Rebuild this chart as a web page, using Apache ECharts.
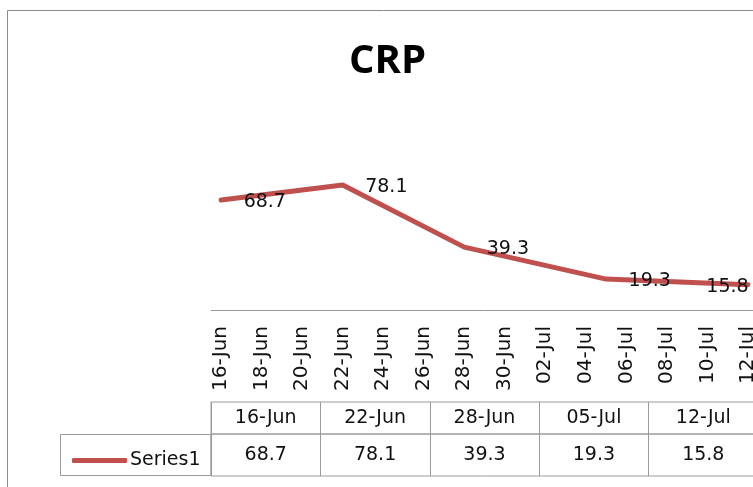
<!DOCTYPE html>
<html>
<head>
<meta charset="utf-8">
<script src="https://cdn.jsdelivr.net/npm/echarts@6/dist/echarts.min.js"></script>
<style>
  html, body { margin: 0; padding: 0; overflow: hidden; background: #fff; }
  #main { width: 770px; height: 487px; }
</style>
</head>
<body>
<div id="main"></div>
<script>
// every day on the date axis, labels shown every other day
const days = [
  '16-Jun', '17-Jun', '18-Jun', '19-Jun', '20-Jun', '21-Jun', '22-Jun', '23-Jun', '24-Jun',
  '25-Jun', '26-Jun', '27-Jun', '28-Jun', '29-Jun', '30-Jun', '01-Jul', '02-Jul', '03-Jul',
  '04-Jul', '05-Jul', '06-Jul', '07-Jul', '08-Jul', '09-Jul', '10-Jul', '11-Jul', '12-Jul',
]
// measured dates and CRP values
const dates = ['16-Jun', '22-Jun', '28-Jun', '05-Jul', '12-Jul']
const crp = [68.7, 78.1, 39.3, 19.3, 15.8]
const seriesName = 'Series1'

const red = '#C0504D'
const border = '#9a9a9a'
const ink = '#111'
const font = '"DejaVu Sans", sans-serif'

const cellLabel = {
  show: true,
  position: 'inside',
  fontFamily: font,
  fontSize: 19,
  color: ink,
  opacity: 1,
  textBorderWidth: 0,
}

const chart = echarts.init(document.getElementById('main'))

const option = {
  animation: false,
  backgroundColor: '#fff',
  title: {
    text: 'CRP',
    left: 344,
    top: 37,
    textStyle: {
      fontFamily: '"Liberation Sans Narrow", "Open Sans", sans-serif',
      fontWeight: 'bold',
      fontSize: 40,
      color: '#000',
    },
  },
  legend: {
    left: 67,
    top: 446,
    itemWidth: 55,
    itemHeight: 5,
    itemGap: 0,
    textStyle: { fontFamily: font, fontSize: 19, color: ink, padding: [0, 0, 0, -2] },
    data: [{ name: seriesName, icon: 'roundRect' }],
  },
  grid: [
    // plot area
    { left: 211, right: 12, top: 150, bottom: 177 },
    // data table: header row
    { left: 211, right: 12, top: 402, height: 32, show: true, borderColor: border, borderWidth: 1 },
    // data table: value row
    { left: 211, right: 12, top: 434, height: 42, show: true, borderColor: border, borderWidth: 1 },
  ],
  xAxis: [
    {
      gridIndex: 0,
      type: 'category',
      data: days,
      boundaryGap: true,
      axisLine: { lineStyle: { color: border, width: 1 } },
      axisTick: { show: false },
      axisLabel: {
        interval: 1,
        rotate: 90,
        margin: 16,
        fontFamily: font,
        fontSize: 20,
        color: ink,
      },
    },
    {
      gridIndex: 1,
      type: 'category',
      data: dates,
      boundaryGap: true,
      axisLine: { show: false },
      axisTick: { show: false },
      splitLine: { show: true, lineStyle: { color: border, width: 1 } },
      axisLabel: { show: false },
    },
    {
      gridIndex: 2,
      type: 'category',
      data: dates,
      boundaryGap: true,
      axisLine: { show: false },
      axisTick: { show: false },
      splitLine: { show: true, lineStyle: { color: border, width: 1 } },
      axisLabel: { show: false },
    },
  ],
  yAxis: [
    { gridIndex: 0, type: 'value', min: 0, max: 100, show: false },
    { gridIndex: 1, type: 'value', min: 0, max: 1, show: false },
    { gridIndex: 2, type: 'value', min: 0, max: 1, show: false },
  ],
  series: [
    {
      name: seriesName,
      type: 'line',
      xAxisIndex: 0,
      yAxisIndex: 0,
      symbol: 'circle',
      symbolSize: 1,
      showSymbol: true,
      lineStyle: { color: red, width: 5, cap: 'round', join: 'round' },
      itemStyle: { color: red },
      label: {
        show: true,
        position: 'right',
        distance: 22,
        offset: [0, 2],
        fontFamily: font,
        fontSize: 19,
        color: ink,
      },
      data: dates.map((d, i) => {
        const p = { value: [d, crp[i]] }
        // last label is pushed back inside the chart area
        if (i === dates.length - 1)
          p.label = { offset: [-64, 2] }
        return p
      }),
    },
    {
      // table header cells
      type: 'scatter',
      xAxisIndex: 1,
      yAxisIndex: 1,
      symbolSize: 0,
      silent: true,
      itemStyle: { color: '#fff', opacity: 1 },
      label: { ...cellLabel, formatter: p => p.value[0] },
      data: dates.map(d => [d, 0.5]),
    },
    {
      // table value cells
      type: 'scatter',
      xAxisIndex: 2,
      yAxisIndex: 2,
      symbolSize: 0,
      silent: true,
      itemStyle: { color: '#fff', opacity: 1 },
      label: { ...cellLabel, formatter: p => p.value[2] },
      data: dates.map((d, i) => [d, 0.5, crp[i]]),
    },
  ],
  graphic: [
    {
      // chart area border, right and bottom edges fall outside the picture
      type: 'rect',
      shape: { x: 7.5, y: 10.5, width: 752, height: 600 },
      style: { fill: 'none', stroke: '#8a8a8a', lineWidth: 1 },
      silent: true,
      z: -1,
    },
    {
      // legend key cell of the table
      type: 'rect',
      shape: { x: 60.5, y: 434.5, width: 150.5, height: 41 },
      style: { fill: 'none', stroke: border, lineWidth: 1 },
      silent: true,
    },
  ],
}

chart.setOption(option)
</script>
</body>
</html>
